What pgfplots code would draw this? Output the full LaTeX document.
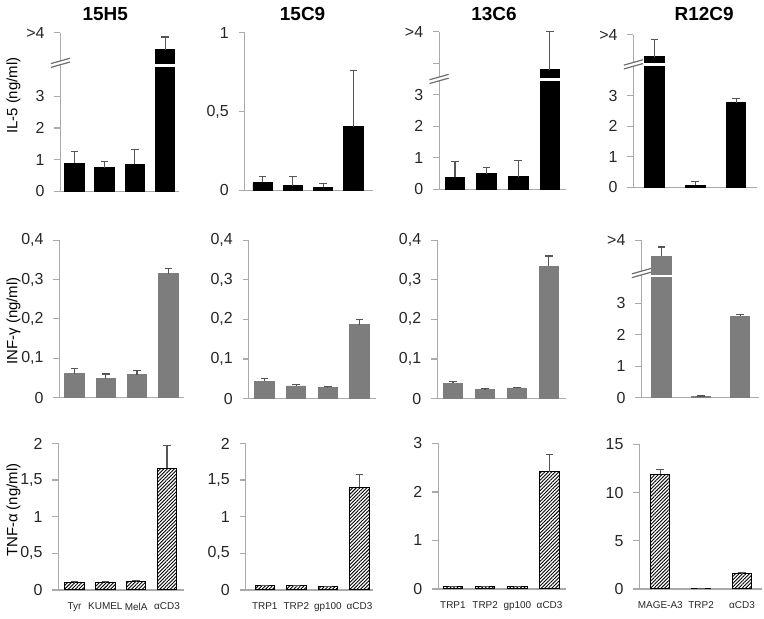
\documentclass[border=0pt]{standalone}
\usepackage{fontspec}
\setmainfont{Liberation Sans}
\usepackage{pgfplots}
\pgfplotsset{compat=1.18}
\usetikzlibrary{calc,patterns.meta}

\definecolor{axgray}{RGB}{170,170,170}
\definecolor{brkgray}{RGB}{110,110,110}
\definecolor{errgray}{RGB}{85,85,85}
\definecolor{bargray}{RGB}{125,125,125}

\pgfplotsset{
  panel/.style={
    scale only axis, anchor=south west, clip=false,
    axis x line=bottom, axis y line=left,
    axis line style={-, draw=axgray, line width=0.6pt},
    ymin=0, ybar, bar width=9.75pt,
    tick align=outside, major tick length=3pt,
    ytick style={draw=axgray, line width=0.6pt},
    yticklabel style={font=\fontsize{8}{9}\selectfont, text=black!85, xshift=-1.5pt},
    xtick=\empty,
    error bars/y dir=plus, error bars/y explicit,
    error bars/error bar style={errgray, line width=0.6pt},
    error bars/error mark options={rotate=90, errgray, mark size=1.9pt, line width=0.6pt},
  },
  cats/.style={
    xtick={0,1,2,3}, major x tick style={draw=none},
    xticklabel style={font=\fontsize{5}{6}\selectfont, text=black!85},
  },
  il/.style={fill=black, draw=black},
  ifn/.style={fill=bargray, draw=bargray},
  tnf/.style={draw=black, line width=0.5pt, fill=white,
    pattern={Lines[angle=45,distance=1.25pt,line width=0.45pt]}},
}

% axis break: #1 = xmin of the axis, #2 = height of the break
\newcommand{\brk}[2]{%
  \coordinate (bk) at (axis cs:#1,#2);
  \fill[white] ($(bk)+(-4pt,-2.6pt)$) -- ($(bk)+(4pt,-0.4pt)$) -- ($(bk)+(4pt,1.2pt)$) -- ($(bk)+(-4pt,-1.0pt)$) -- cycle;
  \draw[brkgray, line width=0.6pt] ($(bk)+(-4.8pt,-3.0pt)$) -- ($(bk)+(4.8pt,-0.3pt)$);
  \draw[brkgray, line width=0.6pt] ($(bk)+(-4.8pt,-1.1pt)$) -- ($(bk)+(4.8pt,1.6pt)$);}
% white cut across a tall bar: #1 = bar position, #2 = height
\newcommand{\cut}[2]{%
  \draw[white, line width=1.4pt] (axis cs:#1-0.42,#2) -- (axis cs:#1+0.42,#2);}

\begin{document}
\begin{tikzpicture}
\path (0,0) rectangle (382pt,305.5pt);

% titles and y labels
\node[font=\bfseries\fontsize{9.5}{10}\selectfont] at (51.5pt,298.5pt) {15H5};
\node[font=\bfseries\fontsize{9.5}{10}\selectfont] at (150.5pt,298.5pt) {15C9};
\node[font=\bfseries\fontsize{9.5}{10}\selectfont] at (246.5pt,298.5pt) {13C6};
\node[font=\bfseries\fontsize{9.5}{10}\selectfont] at (352pt,298.5pt) {R12C9};
\node[rotate=90, font=\fontsize{7.5}{8}\selectfont] at (5.5pt,257.5pt) {IL-5 (ng/ml)};
\node[rotate=90, font=\fontsize{7.5}{8}\selectfont] at (5.5pt,144.5pt) {INF-γ (ng/ml)};
\node[rotate=90, font=\fontsize{7.5}{8}\selectfont] at (5.5pt,49.5pt) {TNF-α (ng/ml)};

% ---------- IL-5 ----------
\begin{axis}[panel, at={(29pt,209.5pt)}, width=59.5pt, height=79.5pt,
  xmin=-0.46, xmax=3.46, ymax=5,
  ytick={0,1,2,3,5}, yticklabels={0,1,2,3,>4}]
  \addplot[il] coordinates {(0,0.88) +- (0,0.38) (1,0.75) +- (0,0.2) (2,0.85) +- (0,0.47) (3,4.47) +- (0,0.4)};
  \cut{3}{3.96}
  \brk{-0.46}{4.1}
\end{axis}

\begin{axis}[panel, at={(121.5pt,210pt)}, width=64.5pt, height=79pt,
  xmin=-0.59, xmax=3.66, ymax=1,
  ytick={0,0.5,1}, yticklabels={0,{0,5},1}]
  \addplot[il] coordinates {(0,0.05) +- (0,0.04) (1,0.03) +- (0,0.06) (2,0.02) +- (0,0.025) (3,0.405) +- (0,0.355)};
\end{axis}

\begin{axis}[panel, at={(219pt,210.5pt)}, width=63.5pt, height=79pt,
  xmin=-0.5, xmax=3.5, ymax=5,
  ytick={0,1,2,3,4,5}, yticklabels={0,1,2,3,,>4}]
  \addplot[il] coordinates {(0,0.38) +- (0,0.5) (1,0.5) +- (0,0.2) (2,0.4) +- (0,0.52) (3,3.8) +- (0,1.2)};
  \cut{3}{3.5}
  \brk{-0.5}{3.55}
\end{axis}

\begin{axis}[panel, at={(316.5pt,211.5pt)}, width=62pt, height=76.5pt,
  xmin=-0.51, xmax=2.51, ymax=5,
  ytick={0,1,2,3,5}, yticklabels={0,1,2,3,>4}]
  \addplot[il] coordinates {(0,4.28) +- (0,0.56) (1,0.07) +- (0,0.13) (2,2.78) +- (0,0.13)};
  \cut{0}{4.02}
  \brk{-0.51}{4.08}
\end{axis}

% ---------- INF-gamma ----------
\begin{axis}[panel, at={(28.5pt,106pt)}, width=62.5pt, height=79pt,
  xmin=-0.48, xmax=3.5, ymax=0.4,
  ytick={0,0.1,0.2,0.3,0.4}, yticklabels={0,{0,1},{0,2},{0,3},{0,4}}]
  \addplot[ifn] coordinates {(0,0.061) +- (0,0.013) (1,0.048) +- (0,0.012) (2,0.058) +- (0,0.011) (3,0.315) +- (0,0.013)};
\end{axis}

\begin{axis}[panel, at={(123.5pt,105.5pt)}, width=64pt, height=79.5pt,
  xmin=-0.5, xmax=3.54, ymax=0.4,
  ytick={0,0.1,0.2,0.3,0.4}, yticklabels={0,{0,1},{0,2},{0,3},{0,4}}]
  \addplot[ifn] coordinates {(0,0.044) +- (0,0.006) (1,0.032) +- (0,0.003) (2,0.028) +- (0,0.002) (3,0.187) +- (0,0.013)};
\end{axis}

\begin{axis}[panel, at={(218pt,105.5pt)}, width=64.5pt, height=79.5pt,
  xmin=-0.5, xmax=3.53, ymax=0.4,
  ytick={0,0.1,0.2,0.3,0.4}, yticklabels={0,{0,1},{0,2},{0,3},{0,4}}]
  \addplot[ifn] coordinates {(0,0.039) +- (0,0.005) (1,0.023) +- (0,0.002) (2,0.027) +- (0,0.002) (3,0.334) +- (0,0.026)};
\end{axis}

\begin{axis}[panel, at={(320.5pt,106pt)}, width=59pt, height=79pt,
  xmin=-0.51, xmax=2.48, ymax=5,
  ytick={0,1,2,3,5}, yticklabels={0,1,2,3,>4}]
  \addplot[ifn] coordinates {(0,4.49) +- (0,0.29) (1,0.03) +- (0,0.02) (2,2.59) +- (0,0.05)};
  \cut{0}{3.86}
  \brk{-0.51}{4.0}
\end{axis}

% ---------- TNF-alpha ----------
\begin{axis}[panel, cats, at={(28pt,9.5pt)}, width=63pt, height=73.5pt,
  xmin=-0.52, xmax=3.55, ymax=2,
  xticklabels={Tyr,KUMEL,MelA,αCD3},
  ytick={0,0.5,1,1.5,2}, yticklabels={0,{0,5},1,{1,5},2}]
  \addplot[tnf] coordinates {(0,0.1) +- (0,0.01) (1,0.1) +- (0,0.02) (2,0.11) +- (0,0.02) (3,1.66) +- (0,0.31)};
\end{axis}

\begin{axis}[panel, cats, at={(122pt,9.5pt)}, width=64pt, height=73.5pt,
  xmin=-0.6, xmax=3.44, ymax=2,
  xticklabels={TRP1,TRP2,gp100,αCD3},
  ytick={0,0.5,1,1.5,2}, yticklabels={0,{0,5},1,{1,5},2}]
  \addplot[tnf] coordinates {(0,0.06) +- (0,0.005) (1,0.055) +- (0,0.005) (2,0.045) +- (0,0.003) (3,1.4) +- (0,0.18)};
\end{axis}

\begin{axis}[panel, cats, at={(218.5pt,10pt)}, width=64pt, height=73pt,
  xmin=-0.46, xmax=3.5, ymax=3,
  xticklabels={TRP1,TRP2,gp100,αCD3},
  ytick={0,1,2,3}, yticklabels={0,1,2,3}]
  \addplot[tnf] coordinates {(0,0.05) +- (0,0.005) (1,0.05) +- (0,0.005) (2,0.05) +- (0,0.005) (3,2.42) +- (0,0.35)};
\end{axis}

\begin{axis}[panel, cats, at={(319.5pt,10pt)}, width=61.5pt, height=72.5pt,
  xmin=-0.51, xmax=2.49, ymax=15, xtick={0,1,2},
  xticklabels={MAGE-A3,TRP2,αCD3},
  ytick={0,5,10,15}, yticklabels={0,5,10,15}]
  \addplot[tnf] coordinates {(0,11.9) +- (0,0.5) (1,0.05) +- (0,0.02) (2,1.65) +- (0,0.05)};
\end{axis}
\end{tikzpicture}
\end{document}
